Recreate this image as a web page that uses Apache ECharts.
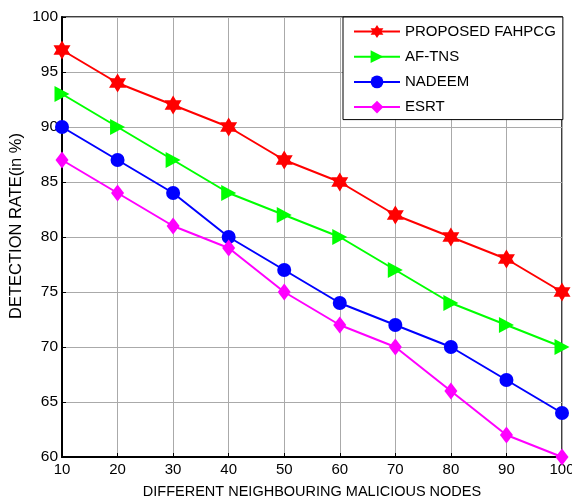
<!DOCTYPE html>
<html>
<head>
<meta charset="utf-8">
<script src="https://cdn.jsdelivr.net/npm/echarts@6/dist/echarts.min.js"></script>
<style>html,body{margin:0;padding:0;background:#fff;}#c{width:572px;height:501px;}</style>
</head>
<body>
<div id="c"></div>
<script>
const nodes = [10, 20, 30, 40, 50, 60, 70, 80, 90, 100];
const proposed = [97, 94, 92, 90, 87, 85, 82, 80, 78, 75];
const afTns = [93, 90, 87, 84, 82, 80, 77, 74, 72, 70];
const nadeem = [90, 87, 84, 80, 77, 74, 72, 70, 67, 64];
const esrt = [87, 84, 81, 79, 75, 72, 70, 66, 62, 60];
const seriesNames = ['PROPOSED FAHPCG', 'AF-TNS', 'NADEEM', 'ESRT'];

const hexagram = 'path://M50 0 L64.43 25 L93.3 25 L78.87 50 L93.3 75 L64.43 75 L50 100 L35.57 75 L6.7 75 L21.13 50 L6.7 25 L35.57 25 Z';
const triRight = 'path://M0 0 L100 50 L0 100 Z';

function pairs(v) { return nodes.map((x, i) => [x, v[i]]); }
function mk(name, data, color, symbol, size) {
  return {
    name, type: 'line', data: pairs(data), symbol, symbolSize: size,
    showAllSymbol: true,
    lineStyle: { color, width: 2 }, itemStyle: { color },
    emphasis: { disabled: true }, animation: false
  };
}
const font = 'Liberation Sans, Arial, sans-serif';
const chart = echarts.init(document.getElementById('c'));
chart.setOption({
  animation: false,
  grid: { left: 62, right: 10, top: 17, bottom: 44, show: true, borderColor: '#000', borderWidth: 1.5,
          containLabel: false, outerBoundsMode: 'none' },
  legend: {
    data: seriesNames,
    left: 343, top: 17,
    orient: 'vertical',
    backgroundColor: '#fff', borderColor: '#000', borderWidth: 1,
    padding: [7, 7, 5, 10],
    itemWidth: 46, itemHeight: 16, itemGap: 10.2,
    textStyle: { fontFamily: font, fontSize: 15, color: '#000' }
  },
  xAxis: {
    type: 'value', min: 10, max: 100, interval: 10,
    name: 'DIFFERENT NEIGHBOURING MALICIOUS NODES', nameLocation: 'middle', nameGap: 27,
    nameMoveOverlap: false,
    nameTextStyle: { fontFamily: font, fontSize: 14.5, color: '#000' },
    axisLine: { show: true, lineStyle: { color: '#000', width: 2 } },
    axisTick: { show: true, inside: true, length: 4, lineStyle: { color: '#000' } },
    axisLabel: { fontFamily: font, fontSize: 15, color: '#000', margin: 5 },
    splitLine: { show: true, lineStyle: { color: '#aaa', width: 1 } }
  },
  yAxis: {
    type: 'value', min: 60, max: 100, interval: 5,
    name: 'DETECTION RATE(in %)', nameLocation: 'middle', nameGap: 37,
    nameMoveOverlap: false,
    nameTextStyle: { fontFamily: font, fontSize: 16.5, color: '#000', padding: [0, 0, 0, 22] },
    axisLine: { show: true, lineStyle: { color: '#000', width: 2 } },
    axisTick: { show: true, inside: true, length: 4, lineStyle: { color: '#000' } },
    axisLabel: { fontFamily: font, fontSize: 15.5, color: '#000', margin: 4 },
    splitLine: { show: true, lineStyle: { color: '#aaa', width: 1 } }
  },
  series: [
    mk(seriesNames[0], proposed, '#ff0000', hexagram, [17, 19]),
    mk(seriesNames[1], afTns, '#00ff00', triRight, [15, 16]),
    mk(seriesNames[2], nadeem, '#0000ff', 'circle', 14),
    mk(seriesNames[3], esrt, '#ff00ff', 'diamond', [13, 17])
  ]
});
</script>
</body>
</html>
